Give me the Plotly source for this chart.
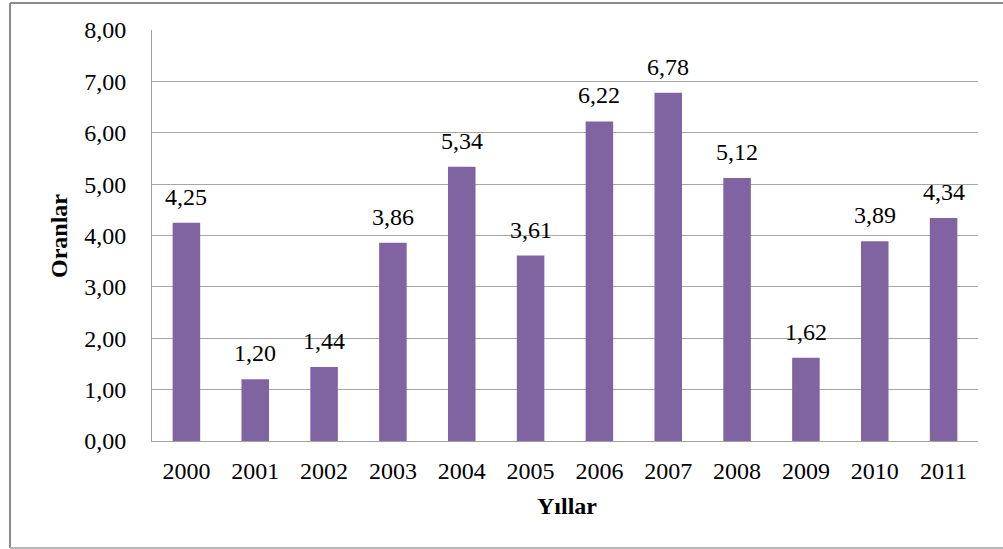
import plotly.graph_objects as go

years = ["2000", "2001", "2002", "2003", "2004", "2005", "2006", "2007", "2008", "2009", "2010", "2011"]
values = [4.25, 1.20, 1.44, 3.86, 5.34, 3.61, 6.22, 6.78, 5.12, 1.62, 3.89, 4.34]
y_ticks = [0, 1, 2, 3, 4, 5, 6, 7, 8]

FONT = "Liberation Serif, Times New Roman, serif"
FS = 24
W, H = 1003, 549
L, R, T, B = 152, 25, 30, 108
pw, ph = W - L - R, H - T - B

fig = go.Figure()
fig.add_trace(go.Bar(
    x=years, y=values,
    marker=dict(color="#8064A2", line=dict(width=0)),
    hoverinfo="x+y",
))

def px_x(x):
    return (x - L) / pw

def px_y(y):
    return (H - B - y) / ph

# category index positions for the value labels
label_annotations = [
    dict(x=i, y=v, xref="x", yref="y", text=f"{v:.2f}".replace(".", ","),
         showarrow=False, yanchor="bottom", xanchor="center", yshift=11,
         font=dict(family=FONT, size=FS, color="#000000"))
    for i, v in enumerate(values)
]

frame = dict(color="#8a8a8a", width=2)
fig.update_layout(
    width=W, height=H,
    margin=dict(l=L, r=R, t=T, b=B),
    paper_bgcolor="white", plot_bgcolor="white",
    separators=",.",
    bargap=0.6,
    showlegend=False,
    font=dict(family=FONT, size=FS, color="#000000"),
    xaxis=dict(
        type="category", range=[-0.5, len(years) - 0.5],
        showgrid=False, showline=True, linecolor="#a0a0a0", linewidth=1,
        ticks="", ticklabelstandoff=8, tickfont=dict(family=FONT, size=FS),
    ),
    yaxis=dict(
        range=[0, 8], tickvals=y_ticks, tickformat=".2f",
        showgrid=True, gridcolor="#a6a6a6", gridwidth=1,
        showline=True, linecolor="#a0a0a0", linewidth=1, zeroline=False,
        ticks="", ticklabelstandoff=20, tickfont=dict(family=FONT, size=FS),
    ),
    annotations=label_annotations + [
        dict(text="<b>Yıllar</b>", xref="paper", yref="paper", x=px_x(567), y=px_y(506),
             showarrow=False, font=dict(family=FONT, size=FS), xanchor="center", yanchor="middle"),
        dict(text="<b>Oranlar</b>", xref="paper", yref="paper", x=px_x(59), y=px_y(236),
             showarrow=False, textangle=-90, font=dict(family=FONT, size=FS), xanchor="center", yanchor="middle"),
    ],
    shapes=[
        dict(type="line", xref="paper", yref="paper", x0=px_x(10), x1=px_x(1010), y0=px_y(3), y1=px_y(3),
             line=frame, layer="below"),
        dict(type="line", xref="paper", yref="paper", x0=px_x(10), x1=px_x(10), y0=px_y(3), y1=px_y(548),
             line=frame, layer="below"),
        dict(type="line", xref="paper", yref="paper", x0=px_x(10), x1=px_x(1010), y0=px_y(548), y1=px_y(548),
             line=dict(color="#b8b8b8", width=2), layer="below"),
    ],
)

fig.write_html("out.html", config={"displayModeBar": False},
               post_script="document.body.style.margin='0';document.body.style.overflow='hidden';")
